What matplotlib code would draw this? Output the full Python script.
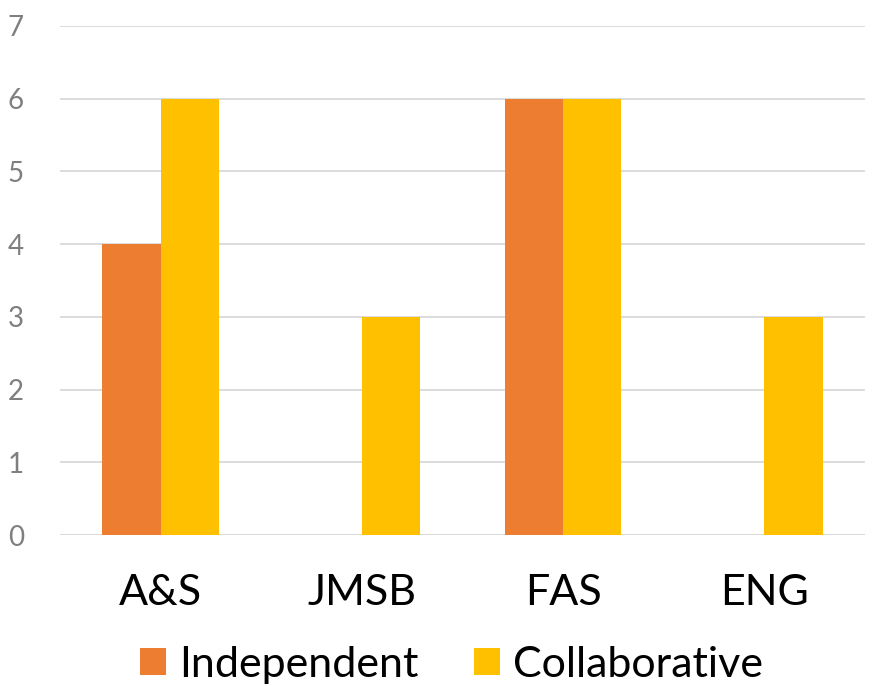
import numpy as np
import matplotlib.pyplot as plt

# data
categories = ["A&S", "JMSB", "FAS", "ENG"]
independent = [4, 0, 6, 0]
collaborative = [6, 3, 6, 3]

plt.rcParams['font.family'] = ['Lato', 'DejaVu Sans']

fig = plt.figure(figsize=(8.77, 6.86), dpi=100)
ax = fig.add_axes([60/877, 151/686, 805/877, 509/686])

x = np.arange(len(categories))
w = 0.29
ax.bar(x - w/2, independent, w, color="#ED7D31", label="Independent", zorder=3)
ax.bar(x + w/2, collaborative, w, color="#FFC000", label="Collaborative", zorder=3)

ax.set_xlim(-0.5, 3.5)
ax.set_ylim(0, 7)
ax.set_yticks(range(8))
ax.yaxis.grid(True, color="#D9D9D9", linewidth=1.3, zorder=0)
for s in ax.spines.values():
    s.set_visible(False)
ax.axhline(0, color="#D9D9D9", linewidth=1.3, zorder=2)
ax.tick_params(axis='y', length=0, labelsize=20, labelcolor="#7F7F7F", pad=26)
ax.tick_params(axis='x', length=0, labelsize=31, pad=28)
ax.set_xticks(x)
ax.set_xticklabels(categories)

# legend centred a little right of the figure middle, like the original
fig.legend(loc="center", bbox_to_anchor=(0.515, 1 - 665/686), ncol=2, frameon=False,
           fontsize=31, handlelength=0.6, handleheight=0.6, handletextpad=0.3,
           columnspacing=1.3)

fig.savefig("out.png", dpi=100)
